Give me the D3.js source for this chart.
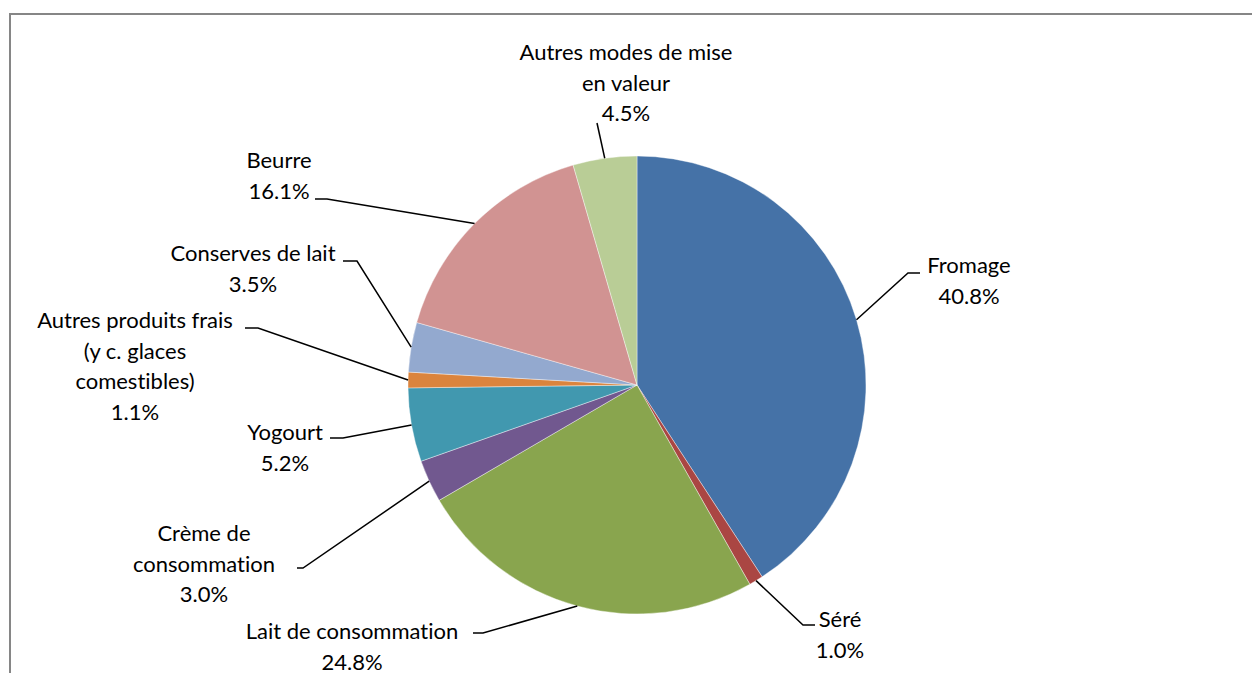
<!DOCTYPE html>
<html>
<head>
<meta charset="utf-8">
<script src="https://cdn.jsdelivr.net/npm/d3@7"></script>
<style>
	html, body { margin: 0; padding: 0; background: #fff; }
	svg { display: block; }
	.label { font-family: Lato, "Open Sans", sans-serif; font-size: 22px; fill: #000; font-variant-ligatures: none; }
</style>
</head>
<body>
<svg id="chart" width="1252" height="673"></svg>
<script>
// data
const categories = [
	"Fromage",
	"Séré",
	"Lait de consommation",
	"Crème de consommation",
	"Yogourt",
	"Autres produits frais (y c. glaces comestibles)",
	"Conserves de lait",
	"Beurre",
	"Autres modes de mise en valeur"
];
const shares = [40.8, 1.0, 24.8, 3.0, 5.2, 1.1, 3.5, 16.1, 4.5];

// style
const colors = ["#4572A7", "#AA4643", "#89A54E", "#71588F", "#4198AF", "#DB843D", "#93A9CF", "#D19392", "#B9CD96"];

// label layout: words per line, text centre, first baseline, leader elbow and end
const labelLayout = [
	{ wrap: [1], x: 969, y: 273, elbow: [908, 273], end: [920, 273] },
	{ wrap: [1], x: 840, y: 627, elbow: [803, 625], end: [815, 625] },
	{ wrap: [3], x: 352, y: 639, elbow: [483, 633], end: [473, 633] },
	{ wrap: [2, 1], x: 204, y: 541, elbow: [303, 568], end: [297, 568] },
	{ wrap: [1], x: 285, y: 440, elbow: [343, 438], end: [330, 438] },
	{ wrap: [3, 3, 1], x: 135, y: 328, elbow: [258, 328], end: [245, 328] },
	{ wrap: [3], x: 253, y: 261, elbow: [357, 261], end: [343, 261] },
	{ wrap: [1], x: 279, y: 168, elbow: [327, 199], end: [315, 199] },
	{ wrap: [4, 2], x: 626, y: 60, elbow: null, end: [597, 123] }
];

const cx = 637, cy = 385, radius = 229, lineHeight = 30.5;
const fmt = d => d3.format(".1f")(d) + "%";

const svg = d3.select("#chart");

// chart area border
svg.append("rect")
	.attr("x", 10)
	.attr("y", 14)
	.attr("width", 1300)
	.attr("height", 700)
	.attr("fill", "#fff")
	.attr("stroke", "#868686")
	.attr("stroke-width", 2);

const pie = d3.pie().sort(null).value(d => d.value);
const arc = d3.arc().innerRadius(0).outerRadius(radius);

const rows = categories.map((c, i) => ({ name: c, value: shares[i], color: colors[i], layout: labelLayout[i] }));
const arcs = pie(rows);

const g = svg.append("g").attr("transform", `translate(${cx},${cy})`);

g.selectAll("path.slice")
	.data(arcs)
	.join("path")
		.attr("class", "slice")
		.attr("d", arc)
		.attr("fill", d => d.data.color)
		.attr("stroke", "#fff")
		.attr("stroke-width", 0.4);

// leader lines
const edgePoint = d => {
	const a = (d.startAngle + d.endAngle) / 2;
	return [cx + radius * Math.sin(a), cy - radius * Math.cos(a)];
};

svg.append("g")
	.selectAll("path")
	.data(arcs)
	.join("path")
		.attr("d", d => {
			const p = [edgePoint(d)];
			if (d.data.layout.elbow) p.push(d.data.layout.elbow);
			p.push(d.data.layout.end);
			return d3.line()(p);
		})
		.attr("fill", "none")
		.attr("stroke", "#000")
		.attr("stroke-width", 1.5);

// labels
const splitLines = (name, wrap) => {
	const words = name.split(" ");
	const out = [];
	let k = 0;
	wrap.forEach(n => { out.push(words.slice(k, k + n).join(" ")); k += n; });
	return out;
};

svg.append("g")
	.selectAll("text")
	.data(arcs)
	.join("text")
		.attr("class", "label")
		.attr("text-anchor", "middle")
		.each(function (d) {
			const lines = splitLines(d.data.name, d.data.layout.wrap).concat([fmt(d.data.value)]);
			d3.select(this).selectAll("tspan")
				.data(lines)
				.join("tspan")
					.attr("x", d.data.layout.x)
					.attr("y", (t, i) => d.data.layout.y + i * lineHeight)
					.text(t => t);
		});
</script>
</body>
</html>
